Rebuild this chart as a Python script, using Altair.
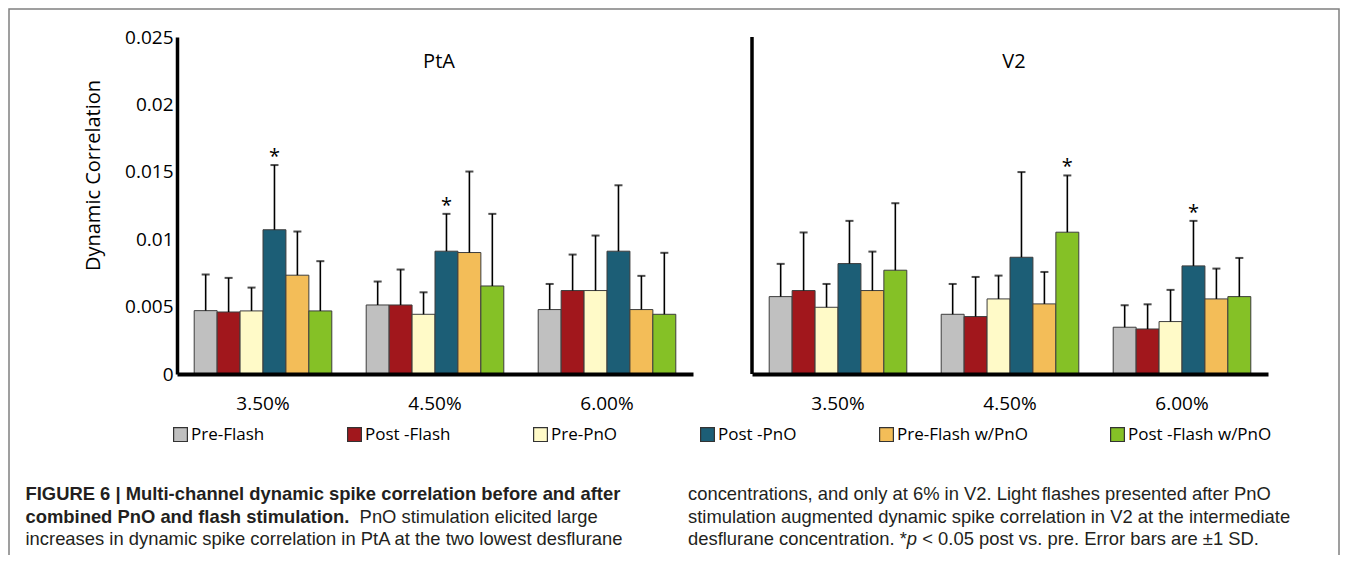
import altair as alt
import pandas as pd

# ---------------- data ----------------
conditions = ["Pre-Flash", "Post -Flash", "Pre-PnO", "Post -PnO", "Pre-Flash w/PnO", "Post -Flash w/PnO"]
colors = ["#C0C0C0", "#A1171C", "#FFFAC8", "#1C5E76", "#F3BD58", "#85C126"]
concentrations = ["3.50%", "4.50%", "6.00%"]

pta_mean_350 = [0.00470, 0.00460, 0.00468, 0.01070, 0.00733, 0.00468]
pta_sd_350 = [0.00268, 0.00253, 0.00173, 0.00480, 0.00324, 0.00369]
pta_mean_450 = [0.00512, 0.00512, 0.00443, 0.00911, 0.00901, 0.00653]
pta_sd_450 = [0.00174, 0.00263, 0.00163, 0.00277, 0.00601, 0.00535]
pta_mean_600 = [0.00478, 0.00619, 0.00619, 0.00911, 0.00478, 0.00443]
pta_sd_600 = [0.00190, 0.00267, 0.00408, 0.00489, 0.00250, 0.00456]

v2_mean_350 = [0.00574, 0.00619, 0.00495, 0.00819, 0.00619, 0.00770]
v2_sd_350 = [0.00243, 0.00431, 0.00173, 0.00317, 0.00289, 0.00497]
v2_mean_450 = [0.00443, 0.00426, 0.00557, 0.00866, 0.00520, 0.01052]
v2_sd_450 = [0.00225, 0.00294, 0.00173, 0.00632, 0.00237, 0.00421]
v2_mean_600 = [0.00347, 0.00334, 0.00389, 0.00802, 0.00557, 0.00574]
v2_sd_600 = [0.00163, 0.00183, 0.00235, 0.00334, 0.00225, 0.00287]

pta_significant = [("3.50%", "Post -PnO"), ("4.50%", "Post -PnO")]
v2_significant = [("4.50%", "Post -Flash w/PnO"), ("6.00%", "Post -PnO")]

y_ticks = [0, 0.005, 0.01, 0.015, 0.02, 0.025]

caption_left = [
    "FIGURE 6 | Multi-channel dynamic spike correlation before and after",
    "combined PnO and flash stimulation.",
    "PnO stimulation elicited large",
    "increases in dynamic spike correlation in PtA at the two lowest desflurane",
]
caption_right = [
    "concentrations, and only at 6% in V2. Light flashes presented after PnO",
    "stimulation augmented dynamic spike correlation in V2 at the intermediate",
    "desflurane concentration. *",
    "p",
    "< 0.05 post vs. pre. Error bars are \u00b11 SD.",
]


def region_df(means, sds, sig):
    rows = []
    for conc, m_list, s_list in zip(concentrations, means, sds):
        for cond, m, s in zip(conditions, m_list, s_list):
            rows.append(dict(conc=conc, cond=cond, mean=m, top=m + s,
                             sig=(conc, cond) in sig))
    return pd.DataFrame(rows)


pta_df = region_df([pta_mean_350, pta_mean_450, pta_mean_600],
                   [pta_sd_350, pta_sd_450, pta_sd_600], pta_significant)
v2_df = region_df([v2_mean_350, v2_mean_450, v2_mean_600],
                  [v2_sd_350, v2_sd_450, v2_sd_600], v2_significant)

# ---------------- styling ----------------
FONT = "Open Sans"
CAP_FONT = "Liberation Sans"
PW, PH = 516, 337
GAP = 59

yscale = alt.Scale(domain=[0, 0.025], nice=False, zero=True)
y_axis = alt.Axis(values=y_ticks, format="~g", title="Dynamic Correlation",
                  grid=False, ticks=False, domainColor="black", domainWidth=3.5,
                  labelFont=FONT, labelFontSize=19, labelColor="black", labelPadding=4,
                  titleFont=FONT, titleFontSize=20, titleFontWeight="normal",
                  titleColor="black", titleX=-84, titleY=138, titleAngle=270,
                  titleAlign="center", titleBaseline="middle", zindex=1)
x_axis = alt.Axis(title=None, ticks=False, domainColor="black", domainWidth=4,
                  labelFont=FONT, labelFontSize=19, labelColor="black",
                  labelPadding=20, labelAngle=0, orient="bottom", zindex=1)
color = alt.Color("cond:N", sort=conditions,
                  scale=alt.Scale(domain=conditions, range=colors),
                  legend=alt.Legend(title=None, orient="none", legendX=-5, legendY=389,
                                    direction="horizontal", columns=6, columnPadding=80,
                                    symbolType="square", symbolSize=190,
                                    symbolStrokeColor="#333333", symbolStrokeWidth=1.2,
                                    symbolOpacity=1, labelFont=FONT, labelFontSize=17,
                                    labelColor="black", labelOffset=2, padding=0))


def panel(df, x_range, title, title_x):
    x = alt.X("conc:N", sort=concentrations,
              scale=alt.Scale(domain=concentrations, range=x_range,
                              paddingInner=0.2, paddingOuter=0.1),
              axis=x_axis)
    xo = alt.XOffset("cond:N", sort=conditions,
                     scale=alt.Scale(domain=conditions, paddingInner=0, paddingOuter=0))
    base = alt.Chart(df)
    bars = base.mark_bar(stroke="#3d3d3d", strokeWidth=1).encode(
        x=x, xOffset=xo, y=alt.Y("mean:Q", scale=yscale, axis=y_axis), color=color)
    err = base.mark_rule(color="black", strokeWidth=1.6).encode(
        x=x, xOffset=xo, y=alt.Y("mean:Q", scale=yscale, axis=y_axis), y2="top:Q")
    cap = base.mark_tick(color="black", size=8, thickness=2, orient="horizontal").encode(
        x=x, xOffset=xo, y=alt.Y("top:Q", scale=yscale, axis=y_axis))
    star = base.transform_filter("datum.sig").mark_text(
        text="*", font=FONT, fontSize=20, baseline="alphabetic", dy=-2, color="black").encode(
        x=x, xOffset=xo, y=alt.Y("top:Q", scale=yscale, axis=y_axis))
    ttl = alt.Chart(pd.DataFrame({"k": [0]})).mark_text(
        text=title, font=FONT, fontSize=20, color="black", baseline="middle").encode(
        x=alt.value(title_x), y=alt.value(25))
    return alt.layer(bars, err, cap, star, ttl)


one = pd.DataFrame({"k": [0]})
fs = 18.4


def text_at(txt, x, y, bold=False, italic=False):
    return alt.Chart(one).mark_text(
        text=txt, align="left", baseline="alphabetic", font=CAP_FONT, fontSize=fs,
        fontWeight="bold" if bold else "normal",
        fontStyle="italic" if italic else "normal",
        color="#231f20").encode(x=alt.value(x), y=alt.value(y))


left = panel(pta_df, [0, PW], "PtA", 262)
right = panel(v2_df, [PW + GAP, 2 * PW + GAP], "V2", 837)

right_yline = alt.Chart(one).mark_rule(color="black", strokeWidth=3.5).encode(
    x=alt.value(PW + GAP), y=alt.value(0), y2=alt.value(PH))

frame = alt.Chart(one).mark_rect(fillOpacity=0, stroke="#808080", strokeWidth=1.5).encode(
    x=alt.value(-168), x2=alt.value(1162), y=alt.value(-28), y2=alt.value(700))

LX, RX = -151.5, 511
B1, B2, B3 = 463, 485.5, 508
p_x = RX + 11.895 * fs
captions = [
    text_at(caption_left[0], LX, B1, bold=True),
    text_at(caption_left[1], LX, B2, bold=True),
    text_at(caption_left[2], LX + 17.615 * fs + 10, B2),
    text_at(caption_left[3], LX, B3),
    text_at(caption_right[0], RX, B1),
    text_at(caption_right[1], RX, B2),
    text_at(caption_right[2], RX, B3),
    text_at(caption_right[3], p_x, B3, italic=True),
    text_at(caption_right[4], p_x + (0.556 + 0.278) * fs, B3),
]

chart = alt.layer(frame, left, right, right_yline, *captions).resolve_scale(
    x="independent", xOffset="independent"
).properties(
    width=PW, height=PH,
    padding={"left": 169, "top": 29, "right": 1332 - 169 - PW, "bottom": 547 - 29 - PH},
    autosize=alt.AutoSizeParams(type="none"),
    background="white",
).configure_view(stroke=None)

chart.save("out.html", embed_options={"renderer": "svg", "actions": False})
